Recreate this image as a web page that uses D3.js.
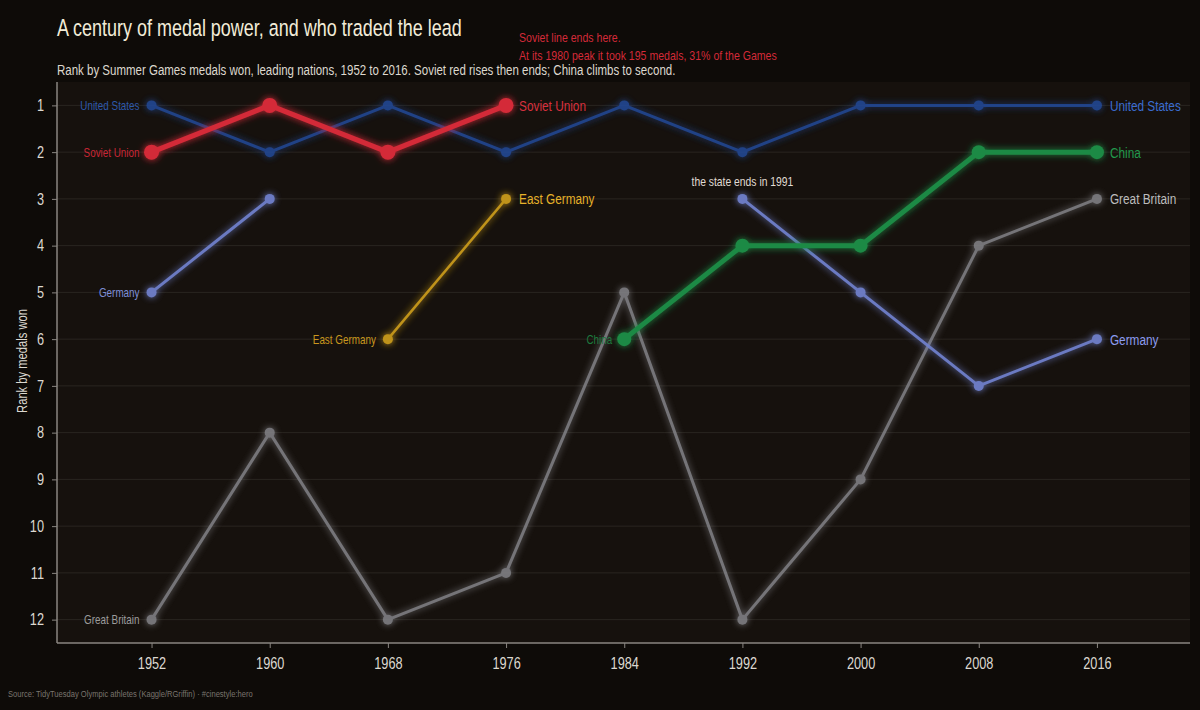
<!DOCTYPE html>
<html><head><meta charset="utf-8">
<script src="https://cdn.jsdelivr.net/npm/d3@7"></script>
<style>
html,body{margin:0;padding:0;background:#0e0b08;}
svg{display:block;}
text{font-family:"Liberation Sans",Arial,sans-serif;}
</style></head><body>
<svg id="chart" width="1200" height="710"></svg>
<script>
const years = [1952,1960,1968,1976,1984,1992,2000,2008,2016];
const rankTicks = [1,2,3,4,5,6,7,8,9,10,11,12];
const usaRanks = [[1952,1],[1960,2],[1968,1],[1976,2],[1984,1],[1992,2],[2000,1],[2008,1],[2016,1]];
const sovietRanks = [[1952,2],[1960,1],[1968,2],[1976,1]];
const germanyRanksA = [[1952,5],[1960,3]];
const germanyRanksB = [[1992,3],[2000,5],[2008,7],[2016,6]];
const eastGermanyRanks = [[1968,6],[1976,3]];
const chinaRanks = [[1984,6],[1992,4],[2000,4],[2008,2],[2016,2]];
const gbRanks = [[1952,12],[1960,8],[1968,12],[1976,11],[1984,5],[1992,12],[2000,9],[2008,4],[2016,3]];

const titleText = "A century of medal power, and who traded the lead";
const subtitleText = "Rank by Summer Games medals won, leading nations, 1952 to 2016. Soviet red rises then ends; China climbs to second.";
const noteLines = ["Soviet line ends here.", "At its 1980 peak it took 195 medals, 31% of the Games"];
const stateNote = "the state ends in 1991";
const yTitle = "Rank by medals won";
const sourceText = "Source: TidyTuesday Olympic athletes (Kaggle/RGriffin)  ·  #cinestyle:hero";

const series = [
  {name:"Great Britain", segs:[gbRanks], color:"#86868b", w:3, r:5, op:0.85, leftCol:"#9c9c9c", rightCol:"#bdbdbd"},
  {name:"United States", segs:[usaRanks], color:"#244b9c", w:3, r:5, op:0.85, leftCol:"#2d58aa", rightCol:"#3a6cd0"},
  {name:"Germany", segs:[germanyRanksA, germanyRanksB], color:"#6f80cc", w:3, r:5, op:0.95, leftCol:"#7f8fd8", rightCol:"#8c9cf0"},
  {name:"East Germany", segs:[eastGermanyRanks], color:"#c99a1a", w:2.5, r:5, op:0.95, leftCol:"#c9971e", rightCol:"#e6b22a"},
  {name:"China", segs:[chinaRanks], color:"#1e8a45", w:5, r:7, op:1, leftCol:"#1d7a3e", rightCol:"#22994c"},
  {name:"Soviet Union", segs:[sovietRanks], color:"#d42a38", w:5, r:7.5, op:1, leftCol:"#c82635", rightCol:"#d8303e"}
];

const svg = d3.select("#chart");
const W = 1200, H = 710;
const L = 57, R = 1190, T = 82, B = 643;
const x = d3.scaleLinear().domain([1945.6, 2022.3]).range([L, R]);
const y = d3.scaleLinear().domain([0.5, 12.5]).range([T, B]);

// condensing factor so the sans font mimics the condensed original face
const probe = svg.append("text").attr("font-size",23.3).text(titleText);
const SX = 405 / probe.node().getComputedTextLength();
probe.remove();

function txt(g, px, py, s, size, fill, anchor){
  return g.append("text").attr("transform",`translate(${px},${py}) scale(${SX},1)`)
    .attr("text-anchor",anchor||"start").attr("font-size",size).attr("fill",fill).text(s);
}

svg.append("rect").attr("width",W).attr("height",H).attr("fill","#0e0b08");
svg.append("rect").attr("x",L).attr("y",T).attr("width",R-L).attr("height",B-T).attr("fill","#16110d");

const defs = svg.append("defs");
const f = defs.append("filter").attr("id","glow").attr("x","-50%").attr("y","-50%").attr("width","200%").attr("height","200%");
f.append("feGaussianBlur").attr("in","SourceGraphic").attr("stdDeviation",3.5).attr("result","b");
const m = f.append("feMerge");
m.append("feMergeNode").attr("in","b");
m.append("feMergeNode").attr("in","SourceGraphic");

// grid
svg.append("g").selectAll("line").data(rankTicks).join("line")
  .attr("x1",L).attr("x2",R).attr("y1",d=>y(d)).attr("y2",d=>y(d))
  .attr("stroke","#2a2520").attr("stroke-width",1);

// axes
const yAxis = d3.axisLeft(y).tickValues(rankTicks).tickSize(5).tickPadding(8);
const gy = svg.append("g").attr("transform",`translate(${L},0)`).call(yAxis);
const xAxis = d3.axisBottom(x).tickValues(years).tickFormat(d3.format("d")).tickSize(5).tickPadding(9);
const gx = svg.append("g").attr("transform",`translate(0,${B})`).call(xAxis);
[gx,gy].forEach(g=>{
  g.select(".domain").attr("stroke","#8a8680").attr("stroke-width",1.5);
  g.selectAll(".tick line").attr("stroke","#8a8680");
  g.selectAll(".tick text").attr("fill","#dcd8d0").attr("font-size",16.5).attr("font-family","Liberation Sans, Arial, sans-serif");
});
gx.selectAll(".tick text").attr("transform",`scale(${SX},1)`);
gy.selectAll(".tick text").each(function(){
  d3.select(this).attr("x", -13/SX).attr("transform",`scale(${SX},1)`);
});
gx.select(".domain").attr("d",`M${L},0H${R}`);
gy.select(".domain").attr("d",`M0,${T}V${B}`);

const line = d3.line().x(d=>x(d[0])).y(d=>y(d[1]));
const labels = svg.append("g");

series.forEach(s=>{
  const g = svg.append("g").attr("filter","url(#glow)").attr("opacity",s.op);
  s.segs.forEach(seg=>{
    g.append("path").attr("d",line(seg)).attr("fill","none").attr("stroke",s.color)
      .attr("stroke-width",s.w).attr("stroke-linejoin","round").attr("stroke-linecap","round");
    g.selectAll(null).data(seg).join("circle").attr("cx",d=>x(d[0])).attr("cy",d=>y(d[1]))
      .attr("r",s.r).attr("fill",s.color);
  });
  const first = s.segs[0][0];
  const lastSeg = s.segs[s.segs.length-1];
  const last = lastSeg[lastSeg.length-1];
  txt(labels, x(first[0])-12, y(first[1])+4.5, s.name, 12.8, s.leftCol, "end");
  txt(labels, x(last[0])+13, y(last[1])+5.5, s.name, 15.3, s.rightCol, "start");
});
labels.raise();

// annotations
txt(svg, x(1992), y(3)-13, stateNote, 13.4, "#e0dcd4", "middle");
txt(svg, x(1976)+13, 42, noteLines[0], 13.7, "#d42a38");
txt(svg, x(1976)+13, 60, noteLines[1], 13.7, "#d42a38");

// titles
txt(svg, L, 36, titleText, 23.3, "#f2ecd8");
txt(svg, L, 74.5, subtitleText, 14.9, "#ddd8ce");
svg.append("text").attr("transform",`translate(27,361) rotate(-90) scale(${SX},1)`).attr("text-anchor","middle")
  .attr("fill","#dcd8d0").attr("font-size",14.5).text(yTitle);
txt(svg, 8, 697, sourceText, 9.8, "#7a756e");
</script>
</body></html>
